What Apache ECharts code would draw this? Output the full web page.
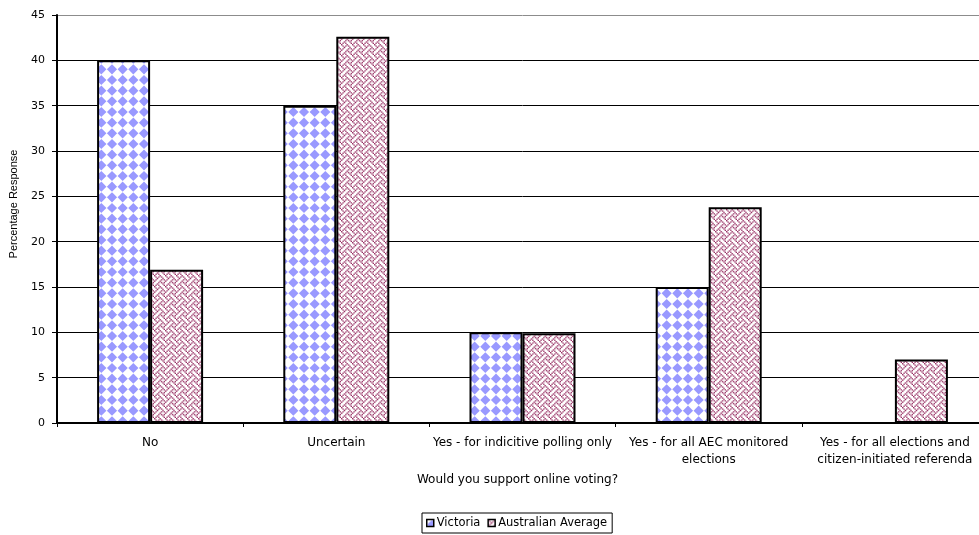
<!DOCTYPE html>
<html>
<head>
<meta charset="utf-8">
<script src="https://cdn.jsdelivr.net/npm/echarts@6/dist/echarts.min.js"></script>
<style>html,body{margin:0;padding:0;background:#fff;overflow:hidden}#c{width:991px;height:535px}</style>
</head>
<body>
<div id="c"></div>
<script>
var categories = ["No", "Uncertain", "Yes - for indicitive polling only", "Yes - for all AEC monitored\nelections", "Yes - for all elections and\ncitizen-initiated referenda"];
var victoria = [40, 35, 10, 15, 0];
var australianAverage = [16.9, 42.6, 9.9, 23.8, 7];
var yTicks = [0, 5, 10, 15, 20, 25, 30, 35, 40, 45];

function diamondPattern() {
  var c = document.createElement('canvas');
  c.width = 32; c.height = 32;
  var g = c.getContext('2d');
  g.fillStyle = '#fff'; g.fillRect(0, 0, 32, 32);
  g.fillStyle = '#9999ff';
  var s = 32 / 3, r = 5.1;
  for (var i = 0; i < 3; i++) for (var j = 0; j < 3; j++) {
    var cx = s * i + s / 2, cy = s * j + s / 2;
    g.beginPath();
    g.moveTo(cx, cy - r); g.lineTo(cx + r, cy); g.lineTo(cx, cy + r); g.lineTo(cx - r, cy);
    g.closePath(); g.fill();
  }
  return c;
}
function weavePattern() {
  var bits = [0x88, 0x54, 0x22, 0x45, 0x88, 0x15, 0x22, 0x51];
  var b = document.createElement('canvas');
  b.width = 8; b.height = 8;
  var g = b.getContext('2d');
  g.fillStyle = '#fff'; g.fillRect(0, 0, 8, 8);
  g.fillStyle = '#993366';
  for (var y = 0; y < 8; y++) for (var x = 0; x < 8; x++) {
    if (bits[y] & (0x80 >> x)) g.fillRect(x, y, 1, 1);
  }
  var c = document.createElement('canvas');
  c.width = 11; c.height = 11;
  var g2 = c.getContext('2d');
  g2.imageSmoothingEnabled = true;
  g2.drawImage(b, 0, 0, 11, 11);
  return c;
}

var font = 'DejaVu Sans, Verdana, sans-serif';
var vfont = 'Liberation Sans, Arial, sans-serif';
var chart = echarts.init(document.getElementById('c'), null, {renderer: 'canvas'});
var splitColors = yTicks.map(function (t, i) { return i === yTicks.length - 1 ? '#8c8c8c' : '#000'; });
chart.setOption({
  animation: false,
  backgroundColor: '#fff',
  grid: {left: 54, right: 3, top: 15, bottom: 112, containLabel: false},
  legend: {
    bottom: 2, left: 422,
    data: ['Victoria', 'Australian Average'],
    itemWidth: 7, itemHeight: 7, itemGap: 7,
    borderColor: '#000', borderWidth: 1, borderRadius: 0,
    padding: [4, 5, 4, 4],
    icon: 'rect',
    itemStyle: {borderColor: '#000', borderWidth: 1.5},
    textStyle: {fontFamily: font, fontSize: 11.5, color: '#000', padding: [0, 0, 0, -2]}
  },
  xAxis: {
    type: 'category',
    data: categories,
    name: 'Would you support online voting?',
    nameLocation: 'middle',
    nameGap: 51,
    nameTextStyle: {fontFamily: font, fontSize: 12, color: '#000', padding: [0, 10, 0, 0]},
    axisLine: {lineStyle: {color: '#000', width: 2}},
    axisTick: {show: true, length: 4, lineStyle: {color: '#000'}},
    axisLabel: {fontFamily: font, fontSize: 12, color: '#000', margin: 11, lineHeight: 17, interval: 0}
  },
  yAxis: {
    type: 'value',
    min: 0, max: 45, interval: 5,
    name: 'Percentage Response',
    nameLocation: 'middle',
    nameGap: 38,
    nameTextStyle: {fontFamily: vfont, fontSize: 11, color: '#000', padding: [0, 0, 0, 30]},
    axisLine: {show: true, lineStyle: {color: '#000', width: 2}},
    axisTick: {show: true, length: 5, lineStyle: {color: '#000'}},
    axisLabel: {fontFamily: font, fontSize: 11, color: '#000', margin: 12},
    splitLine: {show: true, lineStyle: {color: splitColors, width: 1}}
  },
  series: [
    {
      name: 'Victoria', type: 'bar', data: victoria,
      barWidth: 53, barGap: '0%',
      itemStyle: {color: {image: diamondPattern(), repeat: 'repeat'}, borderColor: '#000', borderWidth: 2}
    },
    {
      name: 'Australian Average', type: 'bar', data: australianAverage,
      barWidth: 53, barGap: '0%',
      itemStyle: {color: {image: weavePattern(), repeat: 'repeat'}, borderColor: '#000', borderWidth: 2}
    }
  ]
});
</script>
</body>
</html>
